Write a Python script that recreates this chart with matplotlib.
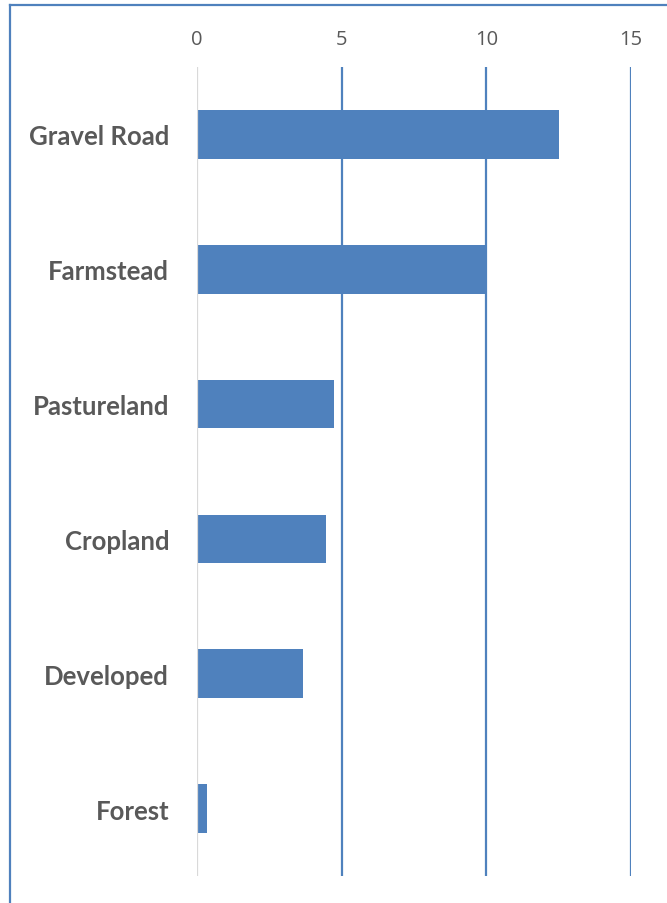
import matplotlib.pyplot as plt
from matplotlib.lines import Line2D

# categories from top to bottom
cats = ["Gravel Road", "Farmstead", "Pastureland", "Cropland", "Developed", "Forest"]
vals = [12.5, 10.0, 4.75, 4.45, 3.65, 0.35]
xticks = [0, 5, 10, 15]

blue = "#4F81BD"
grey = "#595959"

fig = plt.figure(figsize=(6.67, 9.04), dpi=100)
ax = fig.add_axes([197/667, 1-877/904, (631-197)/667, (877-68)/904])

ypos = list(range(len(cats)))
ax.barh(ypos, vals, height=0.36, color=blue, zorder=3)
ax.set_ylim(len(cats)-0.5, -0.5)
ax.set_xlim(0, 15)

ax.set_yticks(ypos)
ax.set_yticklabels(cats, family=["Lato", "DejaVu Sans"], fontweight="bold",
                   fontsize=18.5, color=grey)
ax.set_xticks(xticks)
ax.set_xticklabels([str(t) for t in xticks], family=["Open Sans", "DejaVu Sans"],
                   fontsize=14.5, color=grey)
ax.xaxis.tick_top()
ax.tick_params(axis="both", length=0)
ax.tick_params(axis="x", pad=13)
ax.tick_params(axis="y", pad=20)

for s in ax.spines.values():
    s.set_visible(False)

# vertical gridlines
for t in xticks[1:]:
    ax.axvline(t, color=blue, lw=1.6, zorder=2)
ax.axvline(0, color="#D9D9D9", lw=1.6, zorder=4)

# chart border (left and top edges visible)
fig.add_artist(Line2D([10/667, 10/667], [0, 1-6/904], color=blue, lw=1.6))
fig.add_artist(Line2D([10/667, 1], [1-6/904, 1-6/904], color=blue, lw=1.6))

fig.savefig("out.png", dpi=100)
